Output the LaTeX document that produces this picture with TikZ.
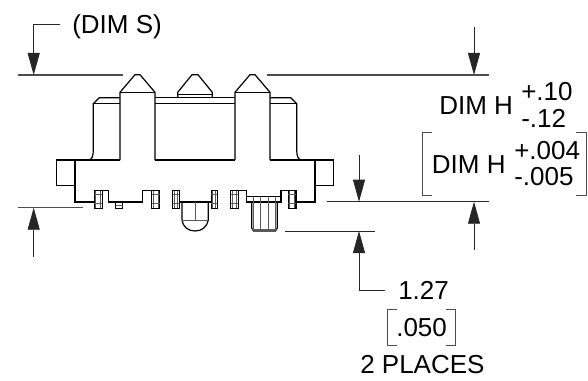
\documentclass[tikz,border=0pt]{standalone}
\usepackage{fontspec}
\setmainfont{Liberation Sans}
\usetikzlibrary{arrows.meta}
\tikzset{
  part/.style={black,line width=0.9pt,line join=miter},
  thin part/.style={black!65,line width=0.6pt},
  dimline/.style={black!70,line width=0.9pt},
  lowline/.style={black!85,line width=0.7pt},
  brack/.style={black!70,line width=0.7pt},
  dimarrow/.style={black!85,line width=0.6pt,-{Triangle[length=16.5pt,width=9pt]}},
  lbl/.style={inner sep=0pt,anchor=base west,font=\fontsize{19.5}{21}\selectfont}
}
\begin{document}
\begin{tikzpicture}[x=0.75pt,y=-0.75pt]
\useasboundingbox (0,0) rectangle (588,381);

% body
\draw[part] (75,185.7) -- (75,202) -- (94.3,202);
\draw[part] (75,160) -- (88,160) .. controls (92,160) and (93.3,156) .. (93.3,150) -- (93.3,103.7) -- (99.3,97.7) -- (120,97.7);
\draw[part] (93.3,103.7) -- (120,103.7);
\draw[part] (315,160) -- (302,160) .. controls (298,160) and (296.7,156) .. (296.7,150) -- (296.7,103.7) -- (290.7,97.7) -- (270,97.7);
\draw[part] (296.7,103.7) -- (270,103.7);
\draw[part] (155,97.7) -- (235,97.7);
\draw[part] (155,103.7) -- (235,103.7);
\draw[part] (75,160) -- (120,160);
\draw[part] (155,160) -- (235,160);
\draw[part] (270,160) -- (315,160);
% pins
\foreach \x in {137.5,252.5} {
  \draw[part] (\x-17.5,160) -- (\x-17.5,92.3) -- (\x-2.5,74.7) -- (\x+2.5,74.7) -- (\x+17.5,92.3) -- (\x+17.5,160);
  \draw[part] (\x-17.5,92.3) -- (\x+17.5,92.3);
}
\draw[part] (177.7,97.7) -- (177.7,92.3) -- (192,74.7) -- (198,74.7) -- (212.3,92.3) -- (212.3,97.7);
\draw[part] (177.7,94.7) -- (212.3,94.7);
% side tabs
\draw[part] (75,160) -- (56.7,160) -- (56.7,185.7) -- (75,185.7);
\draw[part] (75,160) -- (75,185.7);
\draw[part] (315,160) -- (333.3,160) -- (333.3,185.7) -- (315,185.7);
\draw[part] (315,160) -- (315,202) -- (296,202);
% bottom edge
\draw[part] (102.3,190.7) -- (108.7,190.7) -- (108.7,202) -- (142.7,202) -- (142.7,190.7) -- (151.7,190.7);
\draw[part] (179.3,202) -- (211.7,202);
\draw[part] (238.3,190.7) -- (246.7,190.7) -- (246.7,196.7);
\draw[part] (281,196.7) -- (281,190.7) -- (288.3,190.7);
% clips
\foreach \x/\w in {94.3/8,151.7/8,172.7/6.6,211.3/6,230.7/7.6,288.3/7.7} {
  \draw[part] (\x,190.7) rectangle (\x+\w,208.3);
  \draw[thin part] (\x,194) -- (\x+\w,194);
  \draw[thin part] (\x,203.3) -- (\x+\w,203.3);
  \draw[thin part] (\x+1.5,190.7) -- (\x+1.5,208.3);
  \draw[thin part] (\x+\w-1.5,190.7) -- (\x+\w-1.5,208.3);
}
\draw[part] (115.7,202) -- (115.7,208.3) -- (122.7,208.3) -- (122.7,202);
\draw[thin part] (115.7,205) -- (122.7,205);
% LED
\draw[part] (182,202) -- (182,220) .. controls (183,227) and (188,231) .. (195,231) .. controls (202,231) and (207,227) .. (208.3,220) -- (208.3,202);
\draw[thin part] (182,220) -- (208.3,220);
\draw[thin part] (195,202) -- (195,220);
% screw
\draw[part] (246.7,196.7) -- (281,196.7) -- (281,202) -- (246.7,202) -- cycle;
\draw[part] (251.7,202) -- (251.7,228) -- (253.5,231) -- (275.5,231) -- (277.3,228) -- (277.3,202);
\draw[thin part] (260.7,196.7) -- (260.7,231);
\draw[thin part] (268.3,196.7) -- (268.3,231);
\draw[thin part] (251.7,229) -- (277.3,229);
\draw[thin part] (253.5,196.7) -- (253.5,231);
\draw[thin part] (275.5,196.7) -- (275.5,231);

% extension lines
\draw[dimline] (18,75) -- (123,75);
\draw[dimline] (267,75) -- (489,75);
\draw[dimline] (18,207.7) -- (83.3,207.7);
\draw[lowline] (326.7,201.7) -- (489,201.7);
\draw[lowline] (285,231) -- (375,231);

% arrows
\coordinate (sleader) at (60,24.7);
\coordinate (scorner) at (33.7,24.7);
\coordinate (stip) at (33.7,75);
\draw[dimarrow] (sleader) -- (scorner) -- (stip);
\coordinate (bstart) at (33.7,257);
\coordinate (btip) at (33.7,207.7);
\draw[dimarrow] (bstart) -- (btip);
\coordinate (hstart) at (474,27);
\coordinate (htip) at (474,75);
\draw[dimarrow] (hstart) -- (htip);
\coordinate (lstart) at (474,250);
\coordinate (ltip) at (474,201.7);
\draw[dimarrow] (lstart) -- (ltip);
\coordinate (pstart) at (359,155);
\coordinate (ptip) at (359,201.7);
\draw[dimarrow] (pstart) -- (ptip);
\coordinate (qleader) at (385,290.7);
\coordinate (qcorner) at (359,290.7);
\coordinate (qtip) at (359,231);
\draw[dimarrow] (qleader) -- (qcorner) -- (qtip);

% labels
\node[lbl] (dims) at (72,34) {(DIM S)};
\node[lbl] (dimh) at (439,114.3) {DIM H};
\node[lbl] (hplus) at (521,100.7) {+.10};
\node[lbl] (hminus) at (521,127.3) {-.12};
\node[lbl] (dimhb) at (431.7,173.3) {DIM H};
\node[lbl] (bplus) at (514,159.3) {+.004};
\node[lbl] (bminus) at (514,185) {-.005};
\node[lbl] (gap) at (398,299) {1.27};
\node[lbl] (gapb) at (396,336.7) {.050};
\node[lbl] (places) at (360,373) {2 PLACES};

% brackets
\draw[brack] (432,132.7) -- (422.3,132.7) -- (422.3,195) -- (432,195);
\draw[brack] (576,132.7) -- (586.3,132.7) -- (586.3,195) -- (576,195);
\draw[brack] (397,309) -- (387.7,309) -- (387.7,345) -- (397,345);
\draw[brack] (446,309) -- (455,309) -- (455,345) -- (446,345);
\end{tikzpicture}
\end{document}
